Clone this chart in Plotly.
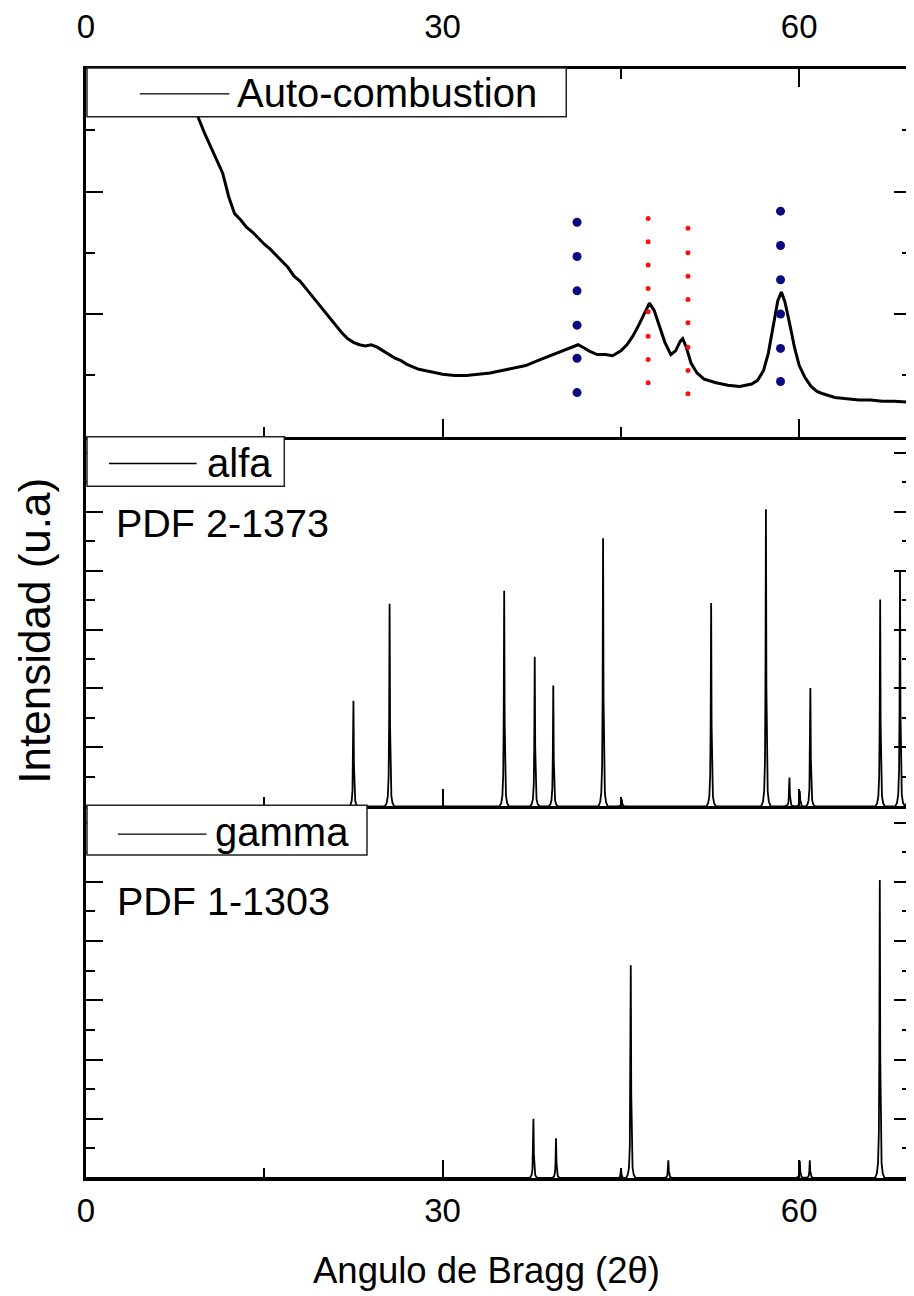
import plotly.graph_objects as go

# ---------------- data ----------------
# Top panel: Auto-combustion XRD pattern (2theta in degrees, intensity in arbitrary units)
ac_two_theta = [8.0, 8.5, 9.0, 9.5, 10.0, 10.5, 11.0, 11.5, 12.0, 12.5, 13.0, 13.5, 14.0, 14.5,
                15.0, 15.5, 16.0, 16.5, 17.0, 17.5, 18.0, 18.5, 19.0, 19.5, 20.0, 20.5, 21.0,
                21.5, 22.0, 22.5, 23.0, 23.5, 24.0, 24.5, 25.0, 25.5, 26.0, 26.5, 27.0, 27.5,
                28.0, 28.5, 29.0, 29.5, 30.0, 31.0, 32.0, 33.0, 34.0, 35.0, 36.0, 37.0, 38.0,
                39.0, 40.0, 40.5, 41.0, 41.4, 41.8, 42.3, 43.0, 43.7, 44.3, 45.0, 45.5, 46.0,
                46.5, 47.0, 47.4, 47.8, 48.2, 48.7, 49.2, 49.6, 50.0, 50.2, 50.5, 50.9, 51.4,
                52.0, 53.0, 54.0, 55.0, 56.0, 56.5, 57.0, 57.4, 57.8, 58.2, 58.5, 58.8, 59.2,
                59.6, 60.0, 60.5, 61.0, 61.5, 62.0, 63.0, 64.0, 65.0, 66.0, 67.0, 68.0, 69.0, 69.5]
ac_intensity = [3.20, 2.94, 2.73, 2.59, 2.47, 2.36, 2.26, 2.15, 1.96, 1.82, 1.77, 1.71, 1.67, 1.62,
                1.57, 1.53, 1.48, 1.43, 1.38, 1.31, 1.27, 1.21, 1.15, 1.09, 1.03, 0.97, 0.91,
                0.85, 0.80, 0.77, 0.75, 0.74, 0.75, 0.73, 0.70, 0.67, 0.64, 0.62, 0.59, 0.57,
                0.55, 0.54, 0.53, 0.52, 0.51, 0.50, 0.50, 0.51, 0.52, 0.54, 0.56, 0.58, 0.62,
                0.66, 0.70, 0.72, 0.74, 0.75, 0.73, 0.70, 0.67, 0.67, 0.66, 0.70, 0.75, 0.82,
                0.91, 1.01, 1.09, 1.03, 0.92, 0.77, 0.67, 0.70, 0.78, 0.80, 0.73, 0.60, 0.52,
                0.47, 0.44, 0.42, 0.41, 0.43, 0.46, 0.54, 0.68, 0.91, 1.11, 1.18, 1.10, 0.92,
                0.73, 0.58, 0.48, 0.41, 0.37, 0.35, 0.32, 0.31, 0.30, 0.30, 0.29, 0.29, 0.28, 0.28]

# Peak markers drawn over the top pattern (dotted columns)
blue_two_theta = [41.31, 58.43]
blue_levels = [[1.75, 1.47, 1.19, 0.91, 0.64, 0.36],
               [1.84, 1.56, 1.28, 1.00, 0.72, 0.45]]
red_two_theta = [47.29, 50.64]
red_levels = [[1.78, 1.59, 1.40, 1.21, 1.02, 0.82, 0.63, 0.44],
              [1.70, 1.50, 1.31, 1.12, 0.93, 0.73, 0.54, 0.35]]

# Middle panel: alfa reference pattern PDF 2-1373 (peak positions, heights)
alfa_pos = [22.5, 25.54, 35.18, 37.75, 39.31, 43.50, 45.07, 52.59, 57.20, 59.18, 60.05, 60.94,
            66.81, 68.48, 69.30]
alfa_int = [1.79, 3.44, 3.66, 2.54, 2.05, 4.55, 0.12, 3.45, 5.04, 0.49, 0.26, 2.01,
            3.51, 4.00, 4.00]

# Bottom panel: gamma reference pattern PDF 1-1303
gamma_pos = [37.64, 39.54, 45.01, 45.83, 48.99, 60.05, 60.89, 66.78]
gamma_int = [1.00, 0.67, 0.15, 3.59, 0.30, 0.29, 0.30, 5.03]

# Peak profile template (relative offsets in degrees, fraction of peak height)
PROFILE_DX = [-0.4, -0.25, -0.15, -0.08, -0.04, -0.015, 0.0, 0.015, 0.04, 0.08, 0.15, 0.25, 0.4]
PROFILE_FR = [0.0, 0.015, 0.05, 0.15, 0.4, 0.8, 1.0, 0.8, 0.4, 0.15, 0.05, 0.015, 0.0]

X_TICKS = [0, 30, 60]

# ---------------- geometry ----------------
# the page body adds an 8px margin, so the figure is shifted by OFF on screen
OFF = 8
W, H = 914 - OFF, 1296 - OFF
ML, MT, MB = 86 - OFF, 62 - OFF, 118
X_MAX = (W - ML) / 11.93
PLOT_H = H - MT - MB
FONT = "Liberation Sans, Arial, sans-serif"


def px(x):
    # screen pixel x -> paper fraction
    return (x - OFF - ML) / (W - ML)


def py(y):
    # screen pixel y -> paper fraction
    return (H - MB - (y - OFF)) / PLOT_H


def pattern(pos, inten):
    xs, ys = [0.0], [0.0]
    for p, h in sorted(zip(pos, inten)):
        for dx, f in zip(PROFILE_DX, PROFILE_FR):
            xs.append(p + dx)
            ys.append(h * f)
    xs.append(X_MAX)
    ys.append(0.0)
    return xs, ys


fig = go.Figure()

# top panel
fig.add_trace(go.Scatter(x=ac_two_theta, y=ac_intensity, mode="lines", name="Auto-combustion",
                         line=dict(color="black", width=3), xaxis="x3", yaxis="y3",
                         showlegend=False))
for t, lv in zip(blue_two_theta, blue_levels):
    fig.add_trace(go.Scatter(x=[t] * len(lv), y=lv, mode="markers", showlegend=False,
                             marker=dict(color="#0b0b80", size=9), xaxis="x3", yaxis="y3"))
for t, lv in zip(red_two_theta, red_levels):
    fig.add_trace(go.Scatter(x=[t] * len(lv), y=lv, mode="markers", showlegend=False,
                             marker=dict(color="#ff1010", size=5), xaxis="x3", yaxis="y3"))

# middle panel
ax_, ay_ = pattern(alfa_pos, alfa_int)
fig.add_trace(go.Scatter(x=ax_, y=ay_, mode="lines", name="alfa", showlegend=False,
                         line=dict(color="black", width=1.8), xaxis="x2", yaxis="y2"))

# bottom panel
gx_, gy_ = pattern(gamma_pos, gamma_int)
fig.add_trace(go.Scatter(x=gx_, y=gy_, mode="lines", name="gamma", showlegend=False,
                         line=dict(color="black", width=1.8), xaxis="x", yaxis="y"))

d3 = 374 / PLOT_H
d2 = (374 + 372) / PLOT_H

xcommon = dict(range=[0, X_MAX], tickvals=X_TICKS, ticks="inside", ticklen=18, tickwidth=2.2,
               tickcolor="black", showline=True, linewidth=2.6, linecolor="black",
               showgrid=False, zeroline=False,
               minor=dict(dtick=15, tick0=0, ticks="inside", ticklen=10, tickwidth=2.2,
                          tickcolor="black", showgrid=False),
               tickfont=dict(family=FONT, size=33, color="black"))
ycommon = dict(ticks="inside", ticklen=17, tickwidth=2.2, tickcolor="black", dtick=1, tick0=0,
               showline=True, linewidth=2.6, linecolor="black", mirror="allticks",
               showgrid=False, zeroline=False, showticklabels=False,
               minor=dict(dtick=0.5, tick0=0, ticks="inside", ticklen=9, tickwidth=2.2,
                          tickcolor="black", showgrid=False))

fig.update_layout(
    width=W, height=H,
    margin=dict(l=ML, r=0, t=MT, b=MB),
    paper_bgcolor="white", plot_bgcolor="white",
    showlegend=False,
    xaxis=dict(**xcommon, anchor="y", side="bottom", showticklabels=True, ticklabelstandoff=2),
    xaxis2=dict(**xcommon, anchor="y2", matches="x", showticklabels=False),
    xaxis3=dict(**xcommon, anchor="y3", matches="x", side="top", mirror="allticks",
                showticklabels=True, ticklabelstandoff=15),
    yaxis=dict(**ycommon, domain=[0, d3], range=[0, 374 / 59.6], anchor="x"),
    yaxis2=dict(**ycommon, domain=[d3, d2], range=[0, 372 / 59.3], anchor="x2"),
    yaxis3=dict(**ycommon, domain=[d2, 1], range=[0, 3], anchor="x3"),
)

shapes = []
annotations = []


def legend_box(x0, x1, y0, y1, lx0, lx1, ly, tx, ty, text):
    shapes.append(dict(type="rect", xref="paper", yref="paper", x0=px(x0), x1=px(x1),
                       y0=py(y1), y1=py(y0), fillcolor="white",
                       line=dict(color="#222222", width=1.5), layer="above"))
    shapes.append(dict(type="line", xref="paper", yref="paper", x0=px(lx0), x1=px(lx1),
                       y0=py(ly), y1=py(ly), line=dict(color="black", width=1.4), layer="above"))
    annotations.append(dict(xref="paper", yref="paper", x=px(tx), y=py(ty), text=text,
                            showarrow=False, xanchor="left", yanchor="middle",
                            font=dict(family=FONT, size=40, color="black")))


legend_box(87, 568, 61, 110, 140, 230, 87, 236, 86, "Auto-combustion")
legend_box(87, 285, 432, 482, 109, 197, 459, 205, 458, "alfa")
legend_box(87, 368, 803, 853, 118, 207, 832, 213, 830, "gamma")

annotations.append(dict(xref="paper", yref="paper", x=px(114), y=py(519), text="PDF 2-1373",
                        showarrow=False, xanchor="left", yanchor="middle",
                        font=dict(family=FONT, size=39.5, color="black")))
annotations.append(dict(xref="paper", yref="paper", x=px(115), y=py(899), text="PDF 1-1303",
                        showarrow=False, xanchor="left", yanchor="middle",
                        font=dict(family=FONT, size=39.5, color="black")))
annotations.append(dict(xref="paper", yref="paper", x=px(488), y=py(1271),
                        text="Angulo de Bragg (2θ)", showarrow=False, xanchor="center",
                        yanchor="middle", font=dict(family=FONT, size=36.5, color="black")))
annotations.append(dict(xref="paper", yref="paper", x=px(34), y=py(627),
                        text="Intensidad (u.a)", textangle=-90, showarrow=False,
                        xanchor="center", yanchor="middle",
                        font=dict(family=FONT, size=44, color="black")))

fig.update_layout(shapes=shapes, annotations=annotations)

fig.write_html("out.html")
